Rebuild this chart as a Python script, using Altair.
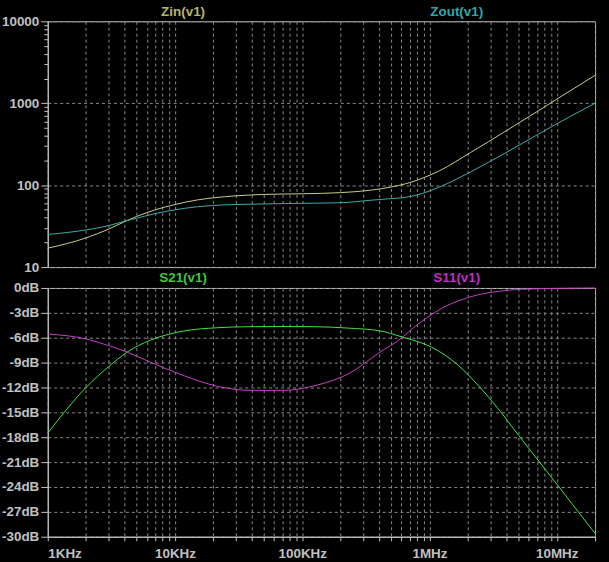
import altair as alt
import pandas as pd

# ---------------- data ----------------
z_freq = [1e3, 2e3, 3e3, 4.2e3, 5e3, 7e3, 1e4, 1.5e4, 2e4, 3e4, 5e4, 1e5, 2e5,
          3.5e5, 5e5, 6.5e5, 8.75e5, 1.2e6, 2.1e6, 4e6, 7e6, 1e7, 2e7]
zin = [17, 22.7, 29, 37, 41.5, 50, 58, 66, 70, 74, 77, 78.5, 81,
       87, 95, 104, 121, 150, 250, 460, 790, 1120, 2190]
zout = [25, 28.4, 32, 37, 39.5, 45, 50, 54.5, 56.5, 58, 59, 60, 61,
        65.5, 68.5, 71, 79, 95, 145, 250, 410, 560, 1000]

s21_freq = [1e3, 2e3, 3e3, 4.2e3, 6.4e3, 1.16e4, 2.12e4, 3.86e4, 7e4, 1.28e5, 2.34e5,
            4.02e5, 6.07e5, 7.28e5, 1.04e6, 1.69e6, 2.43e6, 3.4e6, 5.03e6, 1.03e7, 2e7]
s21 = [-17.5, -12.0, -9.5, -7.74, -6.3, -5.2, -4.8, -4.67, -4.65, -4.67, -4.85,
       -5.15, -5.9, -6.25, -7.15, -9.35, -11.8, -14.4, -17.8, -23.9, -29.6]

s11_freq = [1e3, 2e3, 3e3, 4.2e3, 6.4e3, 1.16e4, 2.12e4, 3.86e4, 7e4, 1.28e5, 2.34e5,
            4.02e5, 6.07e5, 7.28e5, 1.04e6, 1.3e6, 1.69e6, 2.43e6, 3.5e6, 5.4e6, 1e7, 2e7]
s11 = [-5.55, -6.15, -6.95, -7.74, -8.95, -10.55, -11.83, -12.35, -12.35, -11.75, -10.3,
       -7.8, -6.0, -4.95, -3.2, -2.3, -1.55, -0.8, -0.4, -0.15, -0.05, 0.0]

x_ticks = [k * 10 ** e for e in range(3, 7) for k in range(1, 10)] + [1e7, 2e7]
z_ticks = [k * 10 ** e for e in range(1, 4) for k in range(1, 10)] + [10000]
db_ticks = list(range(-30, 1, 3))

x_names = {1000: "1KHz", 10000: "10KHz", 100000: "100KHz", 1000000: "1MHz", 10000000: "10MHz"}

# ---------------- styling ----------------
BG = "black"
FRAME = "#c4c4c4"
GRID = "#8a8a8a"
LABEL = "#c0c0c0"
FONT = "Liberation Sans"
C_ZIN, C_ZOUT = "#cccc88", "#40aaaa"
C_S21, C_S11 = "#48e048", "#c640c6"
T_ZIN, T_ZOUT = "#b4b46a", "#30a8a8"
T_S21, T_S11 = "#3cc83c", "#c030c0"

MAJ = "abs(log(datum.value)/LN10 - round(log(datum.value)/LN10)) < 1e-6"

W = 550
H_TOP = 247
H_BOT = 250

x_scale = alt.Scale(type="log", domain=[1000, 20000000], nice=False)

label_expr_x = " : ".join(
    [f"datum.value == {k} ? '{v}'" for k, v in x_names.items()]) + " : ''"

common_axis = dict(
    labelFont=FONT, labelFontSize=13.5, labelFontWeight="bold", labelColor=LABEL,
    domainColor=FRAME, tickColor=FRAME, gridColor=GRID, gridDash=[3, 3],
    labelOverlap=False, title=None,
)

# ---------------- top panel ----------------
zdf = pd.concat([
    pd.DataFrame({"freq": z_freq, "val": zin, "series": "Zin(v1)"}),
    pd.DataFrame({"freq": z_freq, "val": zout, "series": "Zout(v1)"}),
])

top_lines = alt.Chart(zdf).mark_line(strokeWidth=1, interpolate="monotone").encode(
    x=alt.X("freq:Q", scale=x_scale,
            axis=alt.Axis(values=x_ticks, labels=False, ticks=False, domain=False,
                          grid=True, **common_axis)),
    y=alt.Y("val:Q", scale=alt.Scale(type="log", domain=[10, 10000], nice=False),
            axis=alt.Axis(values=z_ticks,
                          labelExpr=f"({MAJ}) ? format(datum.value, 'd') : ''",
                          gridOpacity={"condition": {"test": MAJ, "value": 1}, "value": 0},
                          tickSize={"condition": {"test": MAJ, "value": 7}, "value": 4},
                          labelPadding=2, **common_axis)),
    color=alt.Color("series:N", scale=alt.Scale(domain=["Zin(v1)", "Zout(v1)"],
                                                 range=[C_ZIN, C_ZOUT]), legend=None),
)

top_titles_df = pd.DataFrame({"name": ["Zin(v1)", "Zout(v1)"], "pos": [136, 411]})
top_titles = alt.Chart(top_titles_df).mark_text(
    font=FONT, fontSize=13.5, fontWeight="bold", baseline="middle", align="center"
).encode(
    x=alt.X("pos:Q", scale=alt.Scale(domain=[0, W], range=[0, W]), axis=None),
    y=alt.value(-9),
    text="name:N",
    color=alt.Color("name:N", scale=alt.Scale(domain=["Zin(v1)", "Zout(v1)"],
                                               range=[T_ZIN, T_ZOUT]), legend=None),
)

top = alt.layer(top_lines, top_titles).resolve_scale(x="independent", color="independent").properties(
    width=W, height=H_TOP)

# ---------------- bottom panel ----------------
sdf = pd.concat([
    pd.DataFrame({"freq": s21_freq, "val": s21, "series": "S21(v1)"}),
    pd.DataFrame({"freq": s11_freq, "val": s11, "series": "S11(v1)"}),
])

bot_lines = alt.Chart(sdf).mark_line(strokeWidth=1, interpolate="monotone").encode(
    x=alt.X("freq:Q", scale=x_scale,
            axis=alt.Axis(values=x_ticks, labelExpr=label_expr_x, tickSize=4,
                          labelPadding=6, grid=True, **common_axis)),
    y=alt.Y("val:Q", scale=alt.Scale(domain=[-30, 0], nice=False),
            axis=alt.Axis(values=db_ticks, labelExpr="datum.value + 'dB'",
                          tickSize=7, labelPadding=2, grid=True, **common_axis)),
    color=alt.Color("series:N", scale=alt.Scale(domain=["S21(v1)", "S11(v1)"],
                                                 range=[C_S21, C_S11]), legend=None),
)

bot_titles_df = pd.DataFrame({"name": ["S21(v1)", "S11(v1)"], "pos": [136, 411]})
bot_titles = alt.Chart(bot_titles_df).mark_text(
    font=FONT, fontSize=13.5, fontWeight="bold", baseline="middle", align="center"
).encode(
    x=alt.X("pos:Q", scale=alt.Scale(domain=[0, W], range=[0, W]), axis=None),
    y=alt.value(-10),
    text="name:N",
    color=alt.Color("name:N", scale=alt.Scale(domain=["S21(v1)", "S11(v1)"],
                                               range=[T_S21, T_S11]), legend=None),
)

bottom = alt.layer(bot_lines, bot_titles).resolve_scale(x="independent", color="independent").properties(
    width=W, height=H_BOT)

chart = alt.vconcat(top, bottom, spacing=21, bounds="flush").properties(
    padding={"left": 0, "top": 3, "right": 11, "bottom": 0},
    background=BG,
).configure_view(stroke=FRAME, strokeWidth=1, fill=BG)

chart.save("out.html", embed_options={"renderer": "svg", "actions": False})
